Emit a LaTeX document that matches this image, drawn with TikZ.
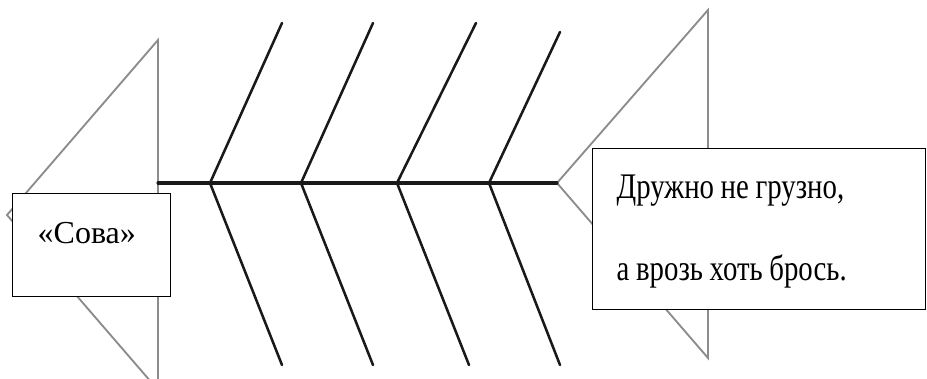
\documentclass[tikz,border=0pt]{standalone}
\usepackage{fontspec}
\setmainfont{Liberation Serif}
\newfontfamily\narrowserif[FakeStretch=0.8]{Liberation Serif}
\newcommand\tightspace{\spaceskip=5pt plus 1pt\relax}
\usetikzlibrary{positioning}

\begin{document}
\begin{tikzpicture}[
    x=0.75pt, y=-0.75pt,
    bone/.style={line width=1.9pt, black!90, line cap=round},
    fin/.style={line width=1.4pt, gray!90, line join=miter},
    tbox/.style={
      rectangle, draw=black, line width=1pt, fill=white,
      inner ysep=0pt, anchor=north west, align=left
    },
  ]
  \useasboundingbox (0,0) rectangle (927,378);
  \clip (0,0) rectangle (927,378);
  %% --- tail and head ---
  \coordinate (tailtop) at (158,40);
  \coordinate (tailtip) at (7,215);
  \coordinate (tailbot) at (158,390);
  \coordinate (headtip) at (557,183);
  \coordinate (headtop) at (708,10);
  \coordinate (headbot) at (708,358);
  \draw[fin] (tailtop) -- (tailtip) -- (tailbot) -- cycle;
  \draw[fin] (headtip) -- (headtop) -- (headbot) -- cycle;

  %% --- spine and bones ---
  \coordinate (spine) at (158,183);
  \draw[bone, line width=2.3pt] (spine) -- (headtip);
  \foreach \i/\x/\ux/\uy/\lx in {1/210/282/23/282, 2/301/373/23/373,
                                 3/397/476/23/469, 4/489/560/32/560} {
    \coordinate (joint\i) at (\x,183);
    \coordinate (upper\i) at (\ux,\uy);
    \coordinate (lower\i) at (\lx,365);
    \draw[bone] (joint\i) -- (upper\i);
    \draw[bone] (joint\i) -- (lower\i);
  }

  %% --- labels ---
  \node[tbox, inner xsep=18.75pt, text width=81pt,
        text height=37.5pt, text depth=39.75pt,
        font=\fontsize{24}{28}\selectfont] (sova) at (12,193) {«Сова»};
  \node[tbox, inner xsep=18pt, text width=213.75pt,
        font=\narrowserif\fontsize{27}{61.5}\selectfont]
        (proverb) at (592,148)
    {\tightspace\rule{0pt}{37.5pt}Дружно не грузно,\\
     а врозь хоть брось.\rule[-21.75pt]{0pt}{21.75pt}};
\end{tikzpicture}
\end{document}
